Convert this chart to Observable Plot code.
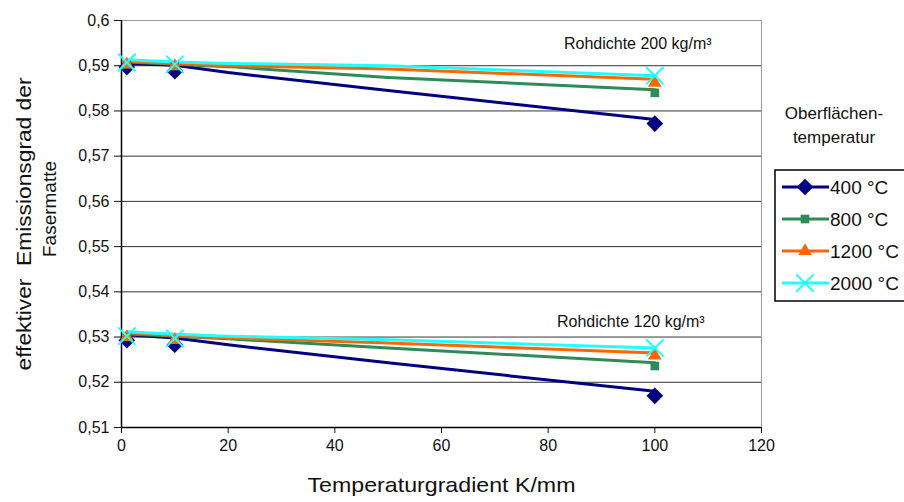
<!DOCTYPE html>
<html>
<head>
<meta charset="utf-8">
<script src="https://cdn.jsdelivr.net/npm/d3@7"></script>
<script src="https://cdn.jsdelivr.net/npm/@observablehq/plot@0.6"></script>
<style>
  body { margin: 0; background: #fff; font-family: "Liberation Sans", Arial, sans-serif; }
  #wrap { position: relative; width: 904px; height: 502px; overflow: hidden; }
  #legend { position: absolute; left: 0; top: 0; }
</style>
</head>
<body>
<div id="wrap"></div>
<script>
// ---- data ----
const series = ["400 °C", "800 °C", "1200 °C", "2000 °C"];
const colors = ["#000080", "#2E8B57", "#FF6600", "#22FFFF"];
const symbols = ["diamond2", "square2", "triangle2", "times"];

// calculated curves (lines)
const lineX = [1, 10, 20, 50, 100];
const line200 = [
  [0.5905, 0.5901, 0.5885, 0.5845, 0.5781],
  [0.5908, 0.5903, 0.5898, 0.5874, 0.5847],
  [0.5910, 0.5905, 0.5900, 0.5893, 0.5870],
  [0.5913, 0.5908, 0.5905, 0.5900, 0.5878]
];
const line120 = [
  [0.5305, 0.5298, 0.5283, 0.5243, 0.5180],
  [0.5307, 0.5302, 0.5296, 0.5276, 0.5243],
  [0.5310, 0.5303, 0.5298, 0.5287, 0.5265],
  [0.5312, 0.5306, 0.5302, 0.5294, 0.5276]
];
// marker points
const markerX = [1, 10, 100];
const mark200 = [
  [0.5897, 0.5888, 0.5772],
  [0.5903, 0.5899, 0.5840],
  [0.5903, 0.5899, 0.5862],
  [0.5907, 0.5903, 0.5878]
];
const mark120 = [
  [0.5293, 0.5283, 0.5170],
  [0.5300, 0.5294, 0.5236],
  [0.5300, 0.5294, 0.5259],
  [0.5302, 0.5297, 0.5276]
];
const xTicks = [0, 20, 40, 60, 80, 100, 120];
const yTicks = [0.51, 0.52, 0.53, 0.54, 0.55, 0.56, 0.57, 0.58, 0.59, 0.6];
const annotations = [
  {x: 96.8, y: 0.5948, text: "Rohdichte 200 kg/m³"},
  {x: 95.5, y: 0.5334, text: "Rohdichte 120 kg/m³"}
];
const xTitle = "Temperaturgradient K/mm";
const yTitle1 = "effektiver  Emissionsgrad der";
const yTitle2 = "Fasermatte";
const legendTitle = ["Oberflächen-", "temperatur"];

// ---- build tables ----
const lines = [];
[line200, line120].forEach((grp, g) => grp.forEach((vals, s) =>
  vals.forEach((v, i) => lines.push({group: g, s, key: g + "-" + s, x: lineX[i], y: v}))));
const marks = [];
[mark200, mark120].forEach((grp, g) => grp.forEach((vals, s) =>
  vals.forEach((v, i) => marks.push({group: g, s, x: markerX[i], y: v}))));

const fmt = d => d3.format(".2~f")(d).replace(".", ",");
const rFor = s => [7.5, 5.5, 6.5, 8][s];

const markList = [
  Plot.ruleY(yTicks, {stroke: d => d === 0.6 ? "#999" : "#333", strokeWidth: 1}),
  Plot.ruleX([120], {stroke: "#999"}),
  Plot.axisY({ticks: yTicks, tickFormat: fmt, tickSize: 7, tickPadding: 5, fontSize: 16, label: null}),
  Plot.axisX({ticks: xTicks, tickSize: 6, tickPadding: 6, fontSize: 16, label: null}),
  Plot.ruleX([0], {stroke: "#000", strokeWidth: 1.5}),
  Plot.ruleY([0.51], {stroke: "#000", strokeWidth: 1.5}),
];
for (let s = 0; s < series.length; s++) {
  markList.push(Plot.line(lines.filter(d => d.s === s), {x: "x", y: "y", z: "key", stroke: colors[s], strokeWidth: 3}));
}
for (let s = 0; s < series.length; s++) {
  const isTimes = symbols[s] === "times";
  markList.push(Plot.dot(marks.filter(d => d.s === s), {
    x: "x", y: "y", symbol: () => symbols[s], r: rFor(s),
    fill: isTimes ? "none" : colors[s], stroke: isTimes ? colors[s] : "none", strokeWidth: 2
  }));
}
markList.push(Plot.text(annotations, {x: "x", y: "y", text: "text", fontSize: 16, fill: "#111"}));
markList.push(Plot.text([xTitle], {frameAnchor: "bottom", dy: 64, fontSize: 21, fill: "#111"}));
markList.push(Plot.text([yTitle1], {frameAnchor: "left", textAnchor: "middle", dx: -97, dy: 0, rotate: -90, fontSize: 20, fill: "#111"}));
markList.push(Plot.text([yTitle2], {frameAnchor: "left", textAnchor: "middle", dx: -72, dy: -15, rotate: -90, fontSize: 19, fill: "#111"}));

const chart = Plot.plot({
  width: 904, height: 502,
  marginLeft: 121, marginRight: 143, marginTop: 20, marginBottom: 75,
  style: {fontFamily: "Liberation Sans, Arial, sans-serif", color: "#111", background: "white"},
  x: {domain: [0, 120]},
  y: {domain: [0.51, 0.6]},
  marks: markList
});
document.getElementById("wrap").appendChild(chart);

// stretch long titles to the reference's wider lettering
const stretch = {[xTitle]: 268, [yTitle1]: 293};
d3.select(chart).selectAll("text").each(function() {
  const t = this.textContent;
  if (stretch[t]) d3.select(this).attr("textLength", stretch[t]).attr("lengthAdjust", "spacingAndGlyphs");
});

// ---- legend (overlay) ----
const lg = d3.select("#wrap").append("svg").attr("id", "legend").attr("width", 904).attr("height", 502)
  .style("font-family", "Liberation Sans, Arial, sans-serif");
legendTitle.forEach((t, i) => lg.append("text").attr("x", 834).attr("y", 119 + i * 24)
  .attr("text-anchor", "middle").attr("font-size", 17).attr("fill", "#111").text(t));
lg.append("rect").attr("x", 775).attr("y", 170).attr("width", 140).attr("height", 131)
  .attr("fill", "none").attr("stroke", "#000").attr("stroke-width", 1.5);
series.forEach((name, i) => {
  const y = 187 + i * 32;
  lg.append("line").attr("x1", 782).attr("x2", 829).attr("y1", y).attr("y2", y)
    .attr("stroke", colors[i]).attr("stroke-width", 3);
  const sym = {diamond2: d3.symbolDiamond2, square2: d3.symbolSquare2, triangle2: d3.symbolTriangle2, times: d3.symbolTimes}[symbols[i]];
  const r = rFor(i);
  lg.append("path").attr("transform", `translate(805,${y})`)
    .attr("d", d3.symbol(sym, Math.PI * r * r)())
    .attr("fill", symbols[i] === "times" ? "none" : colors[i])
    .attr("stroke", symbols[i] === "times" ? colors[i] : "none").attr("stroke-width", 2);
  lg.append("text").attr("x", 830).attr("y", y + 7).attr("font-size", 19).attr("fill", "#111").text(name);
});
</script>
</body>
</html>
